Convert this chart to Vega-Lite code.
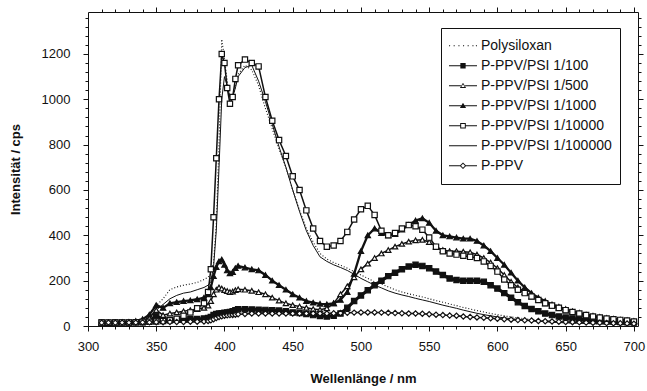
{
  "$schema": "https://vega.github.io/schema/vega-lite/v6.json",
  "width": 550,
  "height": 314,
  "autosize": "none",
  "padding": {"left": 88, "top": 12, "right": 9, "bottom": 65},
  "background": "white",
  "config": {
    "view": {"stroke": "#111", "strokeWidth": 1},
    "font": "Liberation Sans",
    "axis": {"labelFont": "Liberation Sans", "labelFontSize": 13, "labelColor": "#111", "titleFont": "Liberation Sans", "titleFontSize": 13, "titleFontWeight": "bold", "titleColor": "#111", "tickColor": "#111", "tickWidth": 1, "domain": false, "grid": false}
  },
  "data": {"values": [
    {"x":310,"P":12,"A":15,"B":13,"C":16,"D":15,"E":12,"F":14},
    {"x":315,"P":13,"A":14,"B":14,"C":15,"D":16,"E":13,"F":15},
    {"x":320,"P":14,"A":15,"B":14,"C":16,"D":15,"E":14,"F":14},
    {"x":325,"P":14,"A":16,"B":15,"C":17,"D":16,"E":14,"F":15},
    {"x":330,"P":15,"A":15,"B":16,"C":18,"D":16,"E":15,"F":15},
    {"x":335,"P":18,"A":16,"B":18,"C":22,"D":17,"E":17,"F":15},
    {"x":340,"P":25,"A":17,"B":22,"C":30,"D":18,"E":22,"F":16},
    {"x":345,"P":55,"A":22,"B":35,"C":50,"D":19,"E":40,"F":16},
    {"x":350,"P":90,"A":45,"B":70,"C":92,"D":20,"E":70,"F":17},
    {"x":355,"P":120,"A":28,"B":48,"C":80,"D":22,"E":95,"F":17},
    {"x":360,"P":160,"A":26,"B":55,"C":100,"D":25,"E":120,"F":18},
    {"x":365,"P":172,"A":27,"B":60,"C":105,"D":32,"E":135,"F":18},
    {"x":370,"P":180,"A":28,"B":65,"C":110,"D":45,"E":145,"F":18},
    {"x":375,"P":185,"A":30,"B":70,"C":113,"D":60,"E":150,"F":19},
    {"x":380,"P":192,"A":31,"B":75,"C":118,"D":78,"E":160,"F":19},
    {"x":385,"P":205,"A":33,"B":80,"C":125,"D":100,"E":170,"F":20},
    {"x":388,"P":215,"A":35,"B":90,"C":140,"D":150,"E":180,"F":22},
    {"x":390,"P":230,"A":40,"B":110,"C":170,"D":250,"E":195,"F":25},
    {"x":392,"P":280,"A":48,"B":140,"C":220,"D":480,"E":260,"F":30},
    {"x":394,"P":450,"A":53,"B":160,"C":260,"D":740,"E":420,"F":35},
    {"x":396,"P":800,"A":55,"B":170,"C":285,"D":1000,"E":700,"F":40},
    {"x":398,"P":1265,"A":56,"B":165,"C":293,"D":1200,"E":1000,"F":43},
    {"x":400,"P":1180,"A":58,"B":158,"C":270,"D":1160,"E":1100,"F":45},
    {"x":402,"P":1080,"A":60,"B":154,"C":245,"D":1050,"E":1060,"F":47},
    {"x":404,"P":1000,"A":62,"B":150,"C":232,"D":980,"E":1010,"F":48},
    {"x":406,"P":1010,"A":65,"B":152,"C":238,"D":1010,"E":1010,"F":49},
    {"x":408,"P":1060,"A":70,"B":158,"C":255,"D":1090,"E":1050,"F":50},
    {"x":410,"P":1110,"A":74,"B":162,"C":265,"D":1150,"E":1100,"F":52},
    {"x":415,"P":1150,"A":74,"B":160,"C":258,"D":1175,"E":1140,"F":53},
    {"x":420,"P":1130,"A":73,"B":155,"C":250,"D":1160,"E":1150,"F":55},
    {"x":425,"P":1060,"A":72,"B":149,"C":245,"D":1145,"E":1080,"F":55},
    {"x":430,"P":960,"A":71,"B":140,"C":225,"D":1010,"E":990,"F":55},
    {"x":435,"P":870,"A":70,"B":125,"C":200,"D":905,"E":890,"F":55},
    {"x":440,"P":780,"A":68,"B":112,"C":180,"D":820,"E":790,"F":55},
    {"x":445,"P":700,"A":65,"B":100,"C":160,"D":750,"E":700,"F":55},
    {"x":450,"P":600,"A":60,"B":92,"C":140,"D":660,"E":600,"F":55},
    {"x":455,"P":510,"A":57,"B":86,"C":125,"D":600,"E":505,"F":55},
    {"x":460,"P":430,"A":53,"B":80,"C":110,"D":510,"E":420,"F":55},
    {"x":465,"P":370,"A":48,"B":75,"C":103,"D":430,"E":355,"F":55},
    {"x":470,"P":320,"A":44,"B":72,"C":98,"D":375,"E":305,"F":55},
    {"x":475,"P":295,"A":42,"B":78,"C":96,"D":350,"E":285,"F":55},
    {"x":480,"P":280,"A":45,"B":100,"C":100,"D":355,"E":270,"F":56},
    {"x":485,"P":268,"A":55,"B":140,"C":115,"D":375,"E":258,"F":57},
    {"x":490,"P":255,"A":80,"B":175,"C":150,"D":415,"E":245,"F":58},
    {"x":495,"P":240,"A":110,"B":215,"C":230,"D":470,"E":228,"F":59},
    {"x":500,"P":225,"A":135,"B":250,"C":330,"D":515,"E":210,"F":60},
    {"x":505,"P":210,"A":158,"B":275,"C":400,"D":530,"E":195,"F":60},
    {"x":510,"P":195,"A":180,"B":300,"C":430,"D":490,"E":180,"F":60},
    {"x":515,"P":185,"A":200,"B":320,"C":410,"D":420,"E":168,"F":59},
    {"x":520,"P":172,"A":220,"B":335,"C":400,"D":400,"E":155,"F":58},
    {"x":525,"P":160,"A":235,"B":350,"C":405,"D":410,"E":145,"F":57},
    {"x":530,"P":150,"A":250,"B":362,"C":425,"D":430,"E":137,"F":56},
    {"x":535,"P":142,"A":262,"B":372,"C":445,"D":445,"E":130,"F":55},
    {"x":540,"P":135,"A":270,"B":378,"C":465,"D":440,"E":122,"F":55},
    {"x":545,"P":128,"A":265,"B":380,"C":475,"D":425,"E":115,"F":54},
    {"x":550,"P":120,"A":255,"B":370,"C":455,"D":390,"E":108,"F":52},
    {"x":555,"P":112,"A":240,"B":350,"C":420,"D":350,"E":100,"F":50},
    {"x":560,"P":105,"A":225,"B":335,"C":400,"D":330,"E":92,"F":48},
    {"x":565,"P":97,"A":210,"B":330,"C":395,"D":320,"E":85,"F":46},
    {"x":570,"P":90,"A":203,"B":330,"C":390,"D":315,"E":78,"F":45},
    {"x":575,"P":82,"A":200,"B":328,"C":385,"D":310,"E":70,"F":42},
    {"x":580,"P":75,"A":200,"B":325,"C":385,"D":305,"E":63,"F":40},
    {"x":585,"P":68,"A":200,"B":315,"C":375,"D":300,"E":56,"F":38},
    {"x":590,"P":62,"A":195,"B":300,"C":355,"D":285,"E":50,"F":36},
    {"x":595,"P":55,"A":180,"B":280,"C":330,"D":265,"E":45,"F":34},
    {"x":600,"P":50,"A":165,"B":255,"C":300,"D":240,"E":40,"F":32},
    {"x":605,"P":45,"A":145,"B":225,"C":270,"D":205,"E":36,"F":30},
    {"x":610,"P":40,"A":125,"B":195,"C":235,"D":180,"E":32,"F":28},
    {"x":615,"P":36,"A":105,"B":170,"C":200,"D":160,"E":29,"F":26},
    {"x":620,"P":32,"A":88,"B":150,"C":170,"D":145,"E":26,"F":25},
    {"x":625,"P":28,"A":75,"B":130,"C":145,"D":130,"E":23,"F":24},
    {"x":630,"P":25,"A":65,"B":115,"C":125,"D":115,"E":21,"F":22},
    {"x":635,"P":22,"A":55,"B":100,"C":110,"D":100,"E":19,"F":21},
    {"x":640,"P":20,"A":48,"B":88,"C":95,"D":90,"E":17,"F":20},
    {"x":645,"P":18,"A":42,"B":78,"C":85,"D":80,"E":15,"F":19},
    {"x":650,"P":16,"A":37,"B":68,"C":75,"D":70,"E":14,"F":18},
    {"x":655,"P":14,"A":33,"B":60,"C":65,"D":62,"E":13,"F":17},
    {"x":660,"P":13,"A":30,"B":52,"C":58,"D":55,"E":12,"F":16},
    {"x":665,"P":12,"A":27,"B":46,"C":50,"D":48,"E":11,"F":15},
    {"x":670,"P":11,"A":25,"B":40,"C":45,"D":42,"E":10,"F":14},
    {"x":675,"P":10,"A":23,"B":36,"C":40,"D":37,"E":9,"F":14},
    {"x":680,"P":10,"A":21,"B":32,"C":35,"D":33,"E":9,"F":13},
    {"x":685,"P":9,"A":20,"B":28,"C":32,"D":30,"E":8,"F":12},
    {"x":690,"P":8,"A":18,"B":25,"C":28,"D":27,"E":8,"F":12},
    {"x":695,"P":8,"A":17,"B":22,"C":25,"D":24,"E":7,"F":11},
    {"x":700,"P":7,"A":15,"B":19,"C":22,"D":20,"E":7,"F":10}
  ]},
  "transform": [{"fold": ["P", "A", "B", "C", "D", "E", "F"], "as": ["s", "y"]}],
  "layer": [
    {
      "transform": [{"filter": "datum.s == 'P'"}],
      "mark": {"type": "line", "color": "#111", "strokeWidth": 1.1, "strokeDash": [1, 2], "clip": true},
      "encoding": {
        "x": {"field": "x", "type": "quantitative", "scale": {"domain": [300, 703], "nice": false, "zero": false},
          "axis": {"orient": "bottom", "values": [300,350,400,450,500,550,600,650,700], "format": "d", "tickSize": 5, "labelPadding": 9, "labelFlush": false, "title": "Wellenlänge / nm", "titleY": 52, "titleBaseline": "middle",
            "encode": {"ticks": {"y": {"value": -5}, "y2": {"value": 5}}}}},
        "y": {"field": "y", "type": "quantitative", "scale": {"domain": [0, 1385], "nice": false},
          "axis": {"orient": "left", "values": [0,200,400,600,800,1000,1200], "format": "d", "tickSize": 5, "labelPadding": 13, "title": "Intensität / cps", "titleX": -73, "titleY": 157, "titleBaseline": "middle",
            "encode": {"ticks": {"x": {"value": -5}, "x2": {"value": 5}}}}}
      }
    },
    {
      "transform": [{"filter": "datum.s == 'B' || datum.s == 'D' || datum.s == 'F'"}],
      "mark": {"type": "line", "color": "#111", "strokeWidth": 1.5, "clip": true},
      "encoding": {
        "x": {"field": "x", "type": "quantitative", "axis": null},
        "y": {"field": "y", "type": "quantitative", "axis": null},
        "detail": {"field": "s", "type": "nominal"}
      }
    },
    {
      "transform": [{"filter": "datum.s == 'E'"}],
      "mark": {"type": "line", "color": "#111", "strokeWidth": 1, "clip": true},
      "encoding": {
        "x": {"field": "x", "type": "quantitative", "axis": null},
        "y": {"field": "y", "type": "quantitative", "axis": null}
      }
    },
    {
      "transform": [{"filter": "datum.s == 'A'"}],
      "mark": {"type": "line", "color": "#111", "strokeWidth": 3.2, "clip": true},
      "encoding": {
        "x": {"field": "x", "type": "quantitative", "axis": null},
        "y": {"field": "y", "type": "quantitative", "axis": null}
      }
    },
    {
      "transform": [{"filter": "datum.s == 'C'"}],
      "mark": {"type": "line", "color": "#111", "strokeWidth": 2.3, "clip": true},
      "encoding": {
        "x": {"field": "x", "type": "quantitative", "axis": null},
        "y": {"field": "y", "type": "quantitative", "axis": null}
      }
    },
    {
      "transform": [{"filter": "datum.s != 'P' && datum.s != 'E'"}],
      "mark": {"type": "point", "filled": true, "stroke": "#111", "strokeWidth": 1.2, "size": 28, "opacity": 1},
      "encoding": {
        "x": {"field": "x", "type": "quantitative",
          "axis": {"orient": "top", "values": [350,400,450,500,550,600,650,700], "labels": false, "title": null, "tickSize": 5,
            "encode": {"ticks": {"y": {"value": -5}, "y2": {"value": 5}}}}},
        "y": {"field": "y", "type": "quantitative",
          "axis": {"orient": "right", "values": [200,400,600,800,1000,1200], "labels": false, "title": null, "tickSize": 5,
            "encode": {"ticks": {"x": {"value": -5}, "x2": {"value": 5}}}}},
        "shape": {"field": "s", "type": "nominal", "scale": {"domain": ["A","B","C","D","F"], "range": ["square","triangle-up","triangle-up","square","diamond"]}, "legend": null},
        "fill": {"field": "s", "type": "nominal", "scale": {"domain": ["A","B","C","D","F"], "range": ["#111","white","#111","white","white"]}, "legend": null}
      }
    },
    {
      "mark": {"type": "point", "filled": true, "opacity": 0},
      "encoding": {
        "x": {"field": "x", "type": "quantitative",
          "axis": {"orient": "bottom", "values": [310,320,330,340,360,370,380,390,410,420,430,440,460,470,480,490,510,520,530,540,560,570,580,590,610,620,630,640,660,670,680,690], "labels": false, "title": null, "tickSize": 3}},
        "y": {"field": "y", "type": "quantitative",
          "axis": {"orient": "left", "values": [40,80,120,160,240,280,320,360,440,480,520,560,640,680,720,760,840,880,920,960,1040,1080,1120,1160,1240,1280,1320,1360], "labels": false, "title": null, "tickSize": 3,
            "encode": {"ticks": {"x": {"value": 0}, "x2": {"value": 4}}}}},
        "shape": {"field": "s", "type": "nominal",
          "scale": {"domain": ["P","A","B","C","D","E","F"], "range": [
            "M-1,-0.04h0.08v0.08h-0.08Z M-0.67,-0.04h0.08v0.08h-0.08Z M-0.33,-0.04h0.08v0.08h-0.08Z M0,-0.04h0.08v0.08h-0.08Z M0.33,-0.04h0.08v0.08h-0.08Z M0.67,-0.04h0.08v0.08h-0.08Z M0.92,-0.04h0.08v0.08h-0.08Z",
            "M-1,-0.04H1V0.04H-1Z M-0.19,-0.19H0.19V0.19H-0.19Z",
            "M-1,-0.04H-0.15V0.04H-1Z M0.15,-0.04H1V0.04H0.15Z M0,-0.22L0.22,0.16H-0.22Z M0,-0.11L-0.12,0.09H0.12Z",
            "M-1,-0.04H1V0.04H-1Z M0,-0.22L0.22,0.16H-0.22Z",
            "M-1,-0.04H-0.2V0.04H-1Z M0.2,-0.04H1V0.04H0.2Z M-0.2,-0.2H0.2V0.2H-0.2Z M-0.13,-0.13V0.13H0.13V-0.13Z",
            "M-1,-0.04H1V0.04H-1Z",
            "M-1,-0.04H-0.22V0.04H-1Z M0.22,-0.04H1V0.04H0.22Z M0,-0.24L0.24,0L0,0.24L-0.24,0Z M0,-0.14L-0.14,0L0,0.14L0.14,0Z"]},
          "legend": {"orient": "none", "legendX": 353, "legendY": 16, "title": null, "strokeColor": "#111", "fillColor": "white", "padding": 8, "cornerRadius": 0,
            "labelFont": "Liberation Sans", "labelFontSize": 14, "labelColor": "#111", "labelOffset": 4, "symbolSize": 784, "symbolStrokeWidth": 0, "symbolOpacity": 1, "rowPadding": 0, "clipHeight": 19.5,
            "labelExpr": "datum.label == 'P' ? 'Polysiloxan' : datum.label == 'A' ? 'P-PPV/PSI 1/100' : datum.label == 'B' ? 'P-PPV/PSI 1/500' : datum.label == 'C' ? 'P-PPV/PSI 1/1000' : datum.label == 'D' ? 'P-PPV/PSI 1/10000' : datum.label == 'E' ? 'P-PPV/PSI 1/100000' : 'P-PPV'"}},
        "fill": {"field": "s", "type": "nominal",
          "scale": {"domain": ["P","A","B","C","D","E","F"], "range": ["#111","#111","#111","#111","#111","#111","#111"]},
          "legend": {"orient": "none", "legendX": 353, "legendY": 16, "title": null, "strokeColor": "#111", "fillColor": "white", "padding": 8, "cornerRadius": 0,
            "labelFont": "Liberation Sans", "labelFontSize": 14, "labelColor": "#111", "labelOffset": 4, "symbolSize": 784, "symbolStrokeWidth": 0, "symbolOpacity": 1, "rowPadding": 0, "clipHeight": 19.5,
            "labelExpr": "datum.label == 'P' ? 'Polysiloxan' : datum.label == 'A' ? 'P-PPV/PSI 1/100' : datum.label == 'B' ? 'P-PPV/PSI 1/500' : datum.label == 'C' ? 'P-PPV/PSI 1/1000' : datum.label == 'D' ? 'P-PPV/PSI 1/10000' : datum.label == 'E' ? 'P-PPV/PSI 1/100000' : 'P-PPV'"}}
      }
    },
    {
      "mark": {"type": "point", "opacity": 0},
      "encoding": {
        "x": {"field": "x", "type": "quantitative",
          "axis": {"orient": "top", "values": [310,320,330,340,360,370,380,390,410,420,430,440,460,470,480,490,510,520,530,540,560,570,580,590,610,620,630,640,660,670,680,690], "labels": false, "title": null, "tickSize": 3,
            "encode": {"ticks": {"y": {"value": 0}, "y2": {"value": 4}}}}},
        "y": {"field": "y", "type": "quantitative",
          "axis": {"orient": "right", "values": [40,80,120,160,240,280,320,360,440,480,520,560,640,680,720,760,840,880,920,960,1040,1080,1120,1160,1240,1280,1320,1360], "labels": false, "title": null, "tickSize": 3,
            "encode": {"ticks": {"x": {"value": 0}, "x2": {"value": -4}}}}}
      }
    }
  ],
  "resolve": {
    "axis": {"x": "independent", "y": "independent"},
    "scale": {"shape": "independent", "fill": "independent"}
  }
}
